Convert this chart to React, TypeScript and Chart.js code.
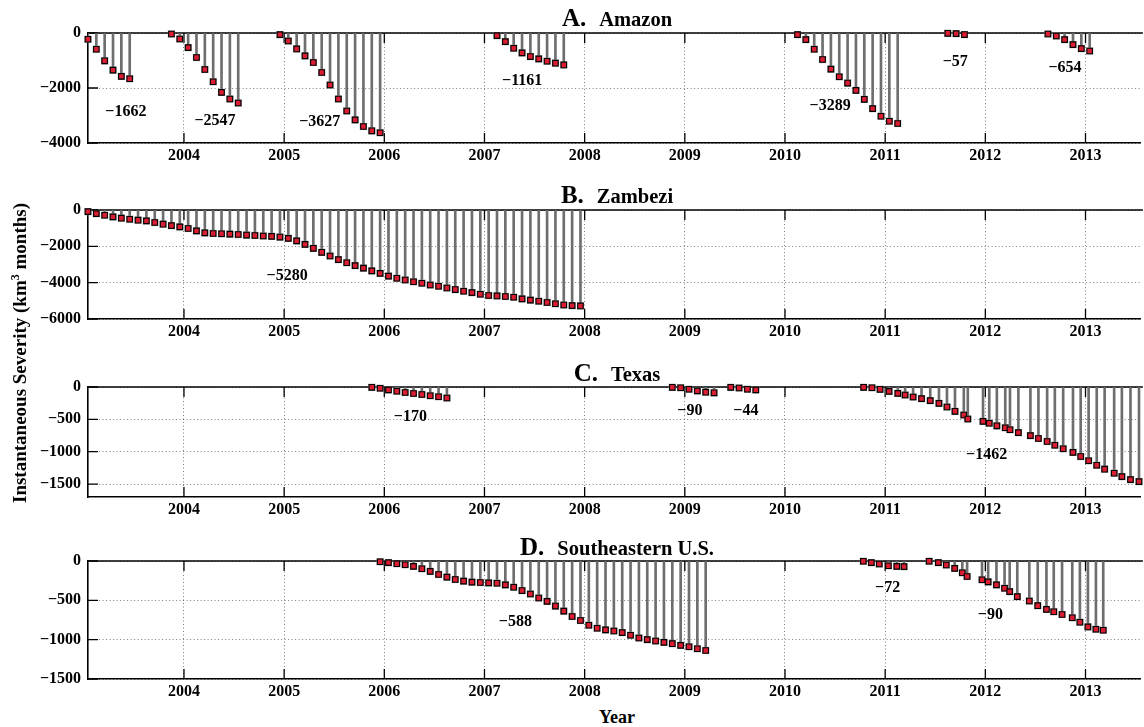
import React, { useEffect, useRef } from 'react';
import { Chart, registerables } from 'chart.js';

Chart.register(...registerables);

const FONT = '"Liberation Serif", "Times New Roman", serif';

// ---------- axes ----------
const X_MIN = 2003.042;
const X_MAX = 2013.553;
const yearTicks = [2004, 2005, 2006, 2007, 2008, 2009, 2010, 2011, 2012, 2013];

const amazonYTicks = [0, -2000, -4000];
const zambeziYTicks = [0, -2000, -4000, -6000];
const texasYTicks = [0, -500, -1000, -1500];
const seYTicks = [0, -500, -1000, -1500];

// ---------- data (month index: 0 = Jan 2003) ----------
// A. Amazon
const amazon1Months = [0, 1, 2, 3, 4, 5];
const amazon1 = [-229, -590, -1012, -1349, -1578, -1662];
const amazon2Months = [10, 11, 12, 13, 14, 15, 16, 17, 18];
const amazon2 = [-36, -217, -531, -892, -1327, -1773, -2159, -2400, -2547];
const amazon3Months = [23, 24, 25, 26, 27, 28, 29, 30, 31, 32, 33, 34, 35];
const amazon3 = [-60, -290, -579, -832, -1073, -1435, -1893, -2400, -2834, -3160, -3400, -3557, -3627];
const amazon4Months = [49, 50, 51, 52, 53, 54, 55, 56, 57];
const amazon4 = [-96, -314, -555, -724, -857, -941, -1025, -1097, -1161];
const amazon5Months = [85, 86, 87, 88, 89, 90, 91, 92, 93, 94, 95, 96, 97];
const amazon5 = [-60, -241, -590, -965, -1315, -1592, -1821, -2086, -2412, -2750, -3027, -3208, -3289];
const amazon6Months = [103, 104, 105];
const amazon6 = [-12, -24, -57];
const amazon7Months = [115, 116, 117, 118, 119, 120];
const amazon7 = [-36, -109, -241, -422, -567, -654];

const amazonLabelText = ['−1662', '−2547', '−3627', '−1161', '−3289', '−57', '−654'];
const amazonLabelX = [2003.42, 2004.31, 2005.355, 2007.376, 2010.45, 2011.7, 2012.795];
const amazonLabelY = [-2876, -3180, -3238, -1741, -2647, -1063, -1280];

// B. Zambezi
const zambeziMonths = [
  0, 1, 2, 3, 4, 5, 6, 7, 8, 9, 10, 11, 12, 13, 14, 15, 16, 17, 18, 19,
  20, 21, 22, 23, 24, 25, 26, 27, 28, 29, 30, 31, 32, 33, 34, 35, 36, 37, 38, 39,
  40, 41, 42, 43, 44, 45, 46, 47, 48, 49, 50, 51, 52, 53, 54, 55, 56, 57, 58, 59,
];
const zambezi = [
  -90, -200, -290, -380, -450, -510, -560, -600, -690, -780,
  -860, -930, -1018, -1150, -1260, -1290, -1310, -1330, -1350, -1380,
  -1400, -1430, -1450, -1490, -1560, -1700, -1890, -2110, -2330, -2530,
  -2730, -2900, -3060, -3200, -3350, -3490, -3640, -3760, -3850, -3950,
  -4030, -4130, -4200, -4290, -4380, -4470, -4550, -4640, -4710, -4730,
  -4760, -4800, -4890, -4960, -5020, -5090, -5160, -5230, -5265, -5280,
];
const zambeziLabelText = ['−5280'];
const zambeziLabelX = [2005.03];
const zambeziLabelY = [-3600];

// C. Texas
const texas1Months = [34, 35, 36, 37, 38, 39, 40, 41, 42, 43];
const texas1 = [-5, -20, -45, -65, -85, -100, -115, -135, -150, -170];
const texas2Months = [70, 71, 72, 73, 74, 75];
const texas2 = [-5, -12, -35, -60, -80, -90];
const texas3Months = [77, 78, 79, 80];
const texas3 = [-5, -15, -35, -44];
const texas4Years = [
  2010.785, 2010.868, 2010.949, 2011.039, 2011.126, 2011.199, 2011.279, 2011.363, 2011.45, 2011.537,
  2011.617, 2011.697, 2011.785, 2011.825, 2011.977, 2012.039, 2012.115, 2012.199, 2012.246, 2012.33,
  2012.45, 2012.53, 2012.617, 2012.694, 2012.777, 2012.875, 2012.952, 2013.031, 2013.112, 2013.191,
  2013.286, 2013.363, 2013.449, 2013.534,
];
const texas4 = [
  -5, -12, -36, -67, -98, -124, -155, -180, -211, -253,
  -309, -376, -433, -495, -531, -560, -600, -630, -660, -705,
  -752, -795, -842, -900, -955, -1010, -1075, -1140, -1210, -1270,
  -1332, -1385, -1432, -1462,
];
const texasLabelText = ['−170', '−90', '−44', '−1462'];
const texasLabelX = [2006.26, 2009.05, 2009.61, 2012.013];
const texasLabelY = [-464, -371, -371, -1044];

// D. Southeastern U.S.
const se1Months = [
  35, 36, 37, 38, 39, 40, 41, 42, 43, 44, 45, 46, 47, 48, 49, 50, 51, 52, 53, 54,
  55, 56, 57, 58, 59, 60, 61, 62, 63, 64, 65, 66, 67, 68, 69, 70, 71, 72, 73, 74,
];
const se1 = [
  -9, -21, -34, -47, -68, -98, -132, -171, -205, -235,
  -256, -269, -274, -278, -282, -303, -333, -376, -419, -470,
  -513, -573, -637, -705, -756, -816, -855, -876, -889, -910,
  -944, -979, -1000, -1017, -1034, -1051, -1073, -1090, -1115, -1137,
];
const se2Years = [2010.782, 2010.862, 2010.941, 2011.032, 2011.116, 2011.188];
const se2 = [-4, -21, -38, -60, -68, -72];
const se3Years = [
  2011.439, 2011.531, 2011.61, 2011.694, 2011.77, 2011.818, 2011.967, 2012.028, 2012.111, 2012.192, 2012.243,
  2012.319, 2012.439, 2012.523, 2012.61, 2012.683, 2012.766, 2012.868, 2012.944, 2013.024, 2013.104, 2013.177,
];
const se3 = [
  -3, -21, -51, -94, -150, -197, -239, -265, -303, -346, -389,
  -453, -509, -568, -615, -645, -680, -722, -778, -838, -868, -880,
];
const seLabelText = ['−588', '−72', '−90'];
const seLabelX = [2007.309, 2011.025, 2012.05];
const seLabelY = [-779, -347, -686];

const panelLetters = ['A.', 'B.', 'C.', 'D.'];
const panelNames = ['Amazon', 'Zambezi', 'Texas', 'Southeastern U.S.'];

// ---------- helpers ----------
const monthToYear = (m: number) => 2003 + (m + 0.5) / 12;
type Pt = { x: number; y: number };
const fromMonths = (months: number[], vals: number[]): Pt[] => months.map((m, i) => ({ x: monthToYear(m), y: vals[i] }));
const fromYears = (years: number[], vals: number[]): Pt[] => years.map((t, i) => ({ x: t, y: vals[i] }));

const minusFmt = (v: number) => (v === 0 ? '0' : v < 0 ? '\u2212' + Math.abs(v) : String(v));

const framePlugin = {
  id: 'frame',
  beforeDatasetsDraw(chart: any) {
    const { ctx, chartArea, scales } = chart;
    const { left, right, top, bottom } = chartArea;
    const x = scales.x;
    const y = scales.y;
    ctx.save();
    ctx.strokeStyle = '#000';
    ctx.lineWidth = 1.6;
    ctx.setLineDash([]);
    ctx.beginPath();
    ctx.moveTo(left - 0.8, top);
    ctx.lineTo(right + 2, top);
    ctx.stroke();
    ctx.lineWidth = 1.3;
    ctx.beginPath();
    x.ticks.forEach((t: any) => {
      const px = x.getPixelForValue(t.value);
      ctx.moveTo(px, bottom);
      ctx.lineTo(px, bottom - 10);
      ctx.moveTo(px, top);
      ctx.lineTo(px, top + 10);
    });
    y.ticks.forEach((t: any) => {
      const py = y.getPixelForValue(t.value);
      ctx.moveTo(left, py);
      ctx.lineTo(left + 10, py);
    });
    ctx.stroke();
    ctx.restore();
  },
  afterDatasetsDraw(chart: any, _args: any, opts: any) {
    const { ctx, scales } = chart;
    const lab = opts && opts.labels;
    if (!lab) return;
    ctx.save();
    ctx.fillStyle = '#000';
    ctx.font = `bold 16px ${FONT}`;
    ctx.textAlign = 'center';
    ctx.textBaseline = 'middle';
    lab.text.forEach((s: string, i: number) => {
      ctx.fillText(s, scales.x.getPixelForValue(lab.x[i]), scales.y.getPixelForValue(lab.y[i]));
    });
    ctx.restore();
  },
};

type Panel = {
  top: number;
  height: number;
  padTop: number;
  xh: number;
  yMin: number;
  yTicks: number[];
  points: Pt[];
  labels: { text: string[]; x: number[]; y: number[] };
  titleTop: number;
};

const panels: Panel[] = [
  {
    top: 0, height: 170, padTop: 33, xh: 27, yMin: -4000, yTicks: amazonYTicks,
    points: [
      ...fromMonths(amazon1Months, amazon1), ...fromMonths(amazon2Months, amazon2),
      ...fromMonths(amazon3Months, amazon3), ...fromMonths(amazon4Months, amazon4),
      ...fromMonths(amazon5Months, amazon5), ...fromMonths(amazon6Months, amazon6),
      ...fromMonths(amazon7Months, amazon7),
    ],
    labels: { text: amazonLabelText, x: amazonLabelX, y: amazonLabelY },
    titleTop: 5,
  },
  {
    top: 185, height: 160, padTop: 25, xh: 26, yMin: -6000, yTicks: zambeziYTicks,
    points: fromMonths(zambeziMonths, zambezi),
    labels: { text: zambeziLabelText, x: zambeziLabelX, y: zambeziLabelY },
    titleTop: 182,
  },
  {
    top: 360, height: 165, padTop: 27, xh: 28, yMin: -1700, yTicks: texasYTicks,
    points: [
      ...fromMonths(texas1Months, texas1), ...fromMonths(texas2Months, texas2),
      ...fromMonths(texas3Months, texas3), ...fromYears(texas4Years, texas4),
    ],
    labels: { text: texasLabelText, x: texasLabelX, y: texasLabelY },
    titleTop: 360,
  },
  {
    top: 540, height: 165, padTop: 21, xh: 26, yMin: -1500, yTicks: seYTicks,
    points: [...fromMonths(se1Months, se1), ...fromYears(se2Years, se2), ...fromYears(se3Years, se3)],
    labels: { text: seLabelText, x: seLabelX, y: seLabelY },
    titleTop: 533.5,
  },
];

const CANVAS_W = 1146;

function PanelChart({ p }: { p: Panel }) {
  const ref = useRef<HTMLCanvasElement | null>(null);
  useEffect(() => {
    if (!ref.current) return;
    const tickFont = { family: FONT, size: 16, weight: 'bold' as const };
    const chart = new Chart(ref.current, {
      type: 'bar',
      data: {
        datasets: [
          {
            type: 'bar',
            data: p.points as any,
            backgroundColor: '#6e6e6e',
            borderWidth: 0,
            barThickness: 2,
            order: 3,
          } as any,
          {
            type: 'scatter',
            data: p.points as any,
            pointStyle: 'rect',
            pointRadius: 5.1,
            backgroundColor: 'rgba(140,140,140,0.85)',
            borderWidth: 0,
            clip: false,
            order: 2,
          } as any,
          {
            type: 'scatter',
            data: p.points as any,
            pointStyle: 'rect',
            pointRadius: 3.9,
            backgroundColor: '#dc1e32',
            borderColor: '#000',
            borderWidth: 1.1,
            clip: false,
            order: 1,
          } as any,
        ],
      },
      options: {
        animation: false,
        responsive: false,
        maintainAspectRatio: false,
        events: [],
        layout: { padding: { top: p.padTop, left: 0, right: 0, bottom: 0 } },
        plugins: {
          legend: { display: false },
          tooltip: { enabled: false },
          title: { display: false },
          frame: { labels: p.labels },
        } as any,
        scales: {
          x: {
            type: 'linear',
            min: X_MIN,
            max: X_MAX,
            offset: false,
            afterBuildTicks: (s: any) => {
              s.ticks = yearTicks.map((v) => ({ value: v }));
            },
            afterFit: (s: any) => {
              s.height = p.xh;
            },
            grid: { color: 'rgba(0,0,0,0.5)', lineWidth: 1, drawTicks: false, offset: false },
            border: { display: true, color: '#000', width: 1.6, dash: [1, 2.5] },
            ticks: {
              padding: 3,
              color: '#000',
              font: tickFont,
              maxRotation: 0,
              autoSkip: false,
              callback: (v: any) => String(v),
            },
          },
          y: {
            type: 'linear',
            min: p.yMin,
            max: 0,
            afterBuildTicks: (s: any) => {
              s.ticks = p.yTicks.map((v) => ({ value: v }));
            },
            afterFit: (s: any) => {
              s.width = 88;
            },
            grid: { color: 'rgba(0,0,0,0.5)', lineWidth: 1, drawTicks: false },
            border: { display: true, color: '#000', width: 1.6, dash: [1, 2.5] },
            ticks: {
              padding: 7,
              color: '#000',
              font: tickFont,
              autoSkip: false,
              callback: (v: any) => minusFmt(Number(v)),
            },
          },
        },
      } as any,
      plugins: [framePlugin as any],
    });
    return () => chart.destroy();
  }, [p]);
  return (
    <canvas
      ref={ref}
      width={CANVAS_W}
      height={p.height}
      style={{ position: 'absolute', left: 0, top: p.top, width: CANVAS_W, height: p.height }}
    />
  );
}

export default function App() {
  const textBase: React.CSSProperties = {
    position: 'absolute',
    fontFamily: FONT,
    fontWeight: 'bold',
    color: '#000',
    whiteSpace: 'nowrap',
  };
  return (
    <div
      style={{
        position: 'fixed',
        left: 0,
        top: 0,
        width: 1144,
        height: 727,
        overflow: 'hidden',
        background: '#fff',
      }}
    >
      {panels.map((p, i) => (
        <PanelChart key={i} p={p} />
      ))}
      {panels.map((p, i) => (
        <div
          key={'t' + i}
          style={{ ...textBase, left: 0, width: 1234, top: p.titleTop, textAlign: 'center', fontSize: 25, lineHeight: 1 }}
        >
          <span>{panelLetters[i]}</span>
          <span style={{ fontSize: 20.5, marginLeft: 13 }}>{panelNames[i]}</span>
        </div>
      ))}
      <div style={{ ...textBase, left: 0, width: 1234, top: 708, textAlign: 'center', fontSize: 18, lineHeight: '18px' }}>
        Year
      </div>
      <div
        style={{
          ...textBase,
          left: 19.6 - 200,
          top: 353 - 12,
          width: 400,
          height: 24,
          lineHeight: '24px',
          textAlign: 'center',
          fontSize: 19,
          transform: 'rotate(-90deg)',
        }}
      >
        Instantaneous Severity (km<sup style={{ fontSize: 12, lineHeight: 0 }}>3</sup> months)
      </div>
    </div>
  );
}
